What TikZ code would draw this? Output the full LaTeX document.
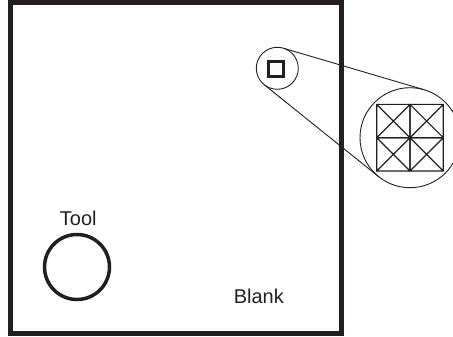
\documentclass[tikz,border=0pt]{standalone}
\usepackage{fontspec}
\setmainfont{Liberation Sans}
\usepackage{xcolor}
\usepackage{tikz}
\usetikzlibrary{positioning, calc}
\definecolor{ink}{HTML}{231F20}
\tikzset{
  blankbox/.style = {rectangle, draw=ink, line width=5pt, minimum size=331pt,
                     inner sep=0pt, outer sep=0pt},
  toolring/.style = {circle, draw=ink, line width=3.5pt, minimum size=65pt,
                     inner sep=0pt, outer sep=0pt},
  lens/.style     = {circle, draw=ink, line width=0.9pt, inner sep=0pt, outer sep=0pt},
  cell/.style     = {rectangle, draw=ink, line width=2.6pt, minimum size=15pt,
                     inner sep=0pt, outer sep=0pt},
  tag/.style      = {font=\fontsize{20}{23}\selectfont, text=ink},
  rim/.style      = {draw=ink, line width=0.9pt},
  mesh/.style     = {draw=ink, line width=1.2pt},
}

\begin{document}
\begin{tikzpicture}[x=1pt, y=-1pt]

    \useasboundingbox (0, 0) rectangle (453, 337);

    \node[blankbox] (blank) at (176, 168) {};

    \node[lens, minimum size=42pt]  (mag)  at (277.3, 68.3) {};
    \node[cell]                     (spot) at (276, 69)     {};
    \node[lens, minimum size=100pt] (zoom) at (410, 137.7)  {};

    \draw[rim] (mag.73.6)   -- (zoom.73.6);
    \draw[rim] (mag.-128.8) -- (zoom.-128.8);

    % 2x2 cells, each with both diagonals
    \foreach \i in {0, 1} {
      \foreach \j in {0, 1} {
        \draw[mesh] ($(zoom.center) + (-33.3 + 33.3*\i, -33.3 + 33.3*\j)$)
          rectangle ++(33.3, 33.3)
          ++(-33.3, 0) -- ++(33.3, -33.3)
          ++(-33.3, 0) -- ++(33.3, 33.3);
      }
    }

    \node[toolring] (tool) at (77, 267) {};
    \node[tag] (toollabel) at (78.3, 218.3) {Tool};
    \node[tag] (blanklabel) at (258.8, 296) {Blank};

\end{tikzpicture}
\end{document}
